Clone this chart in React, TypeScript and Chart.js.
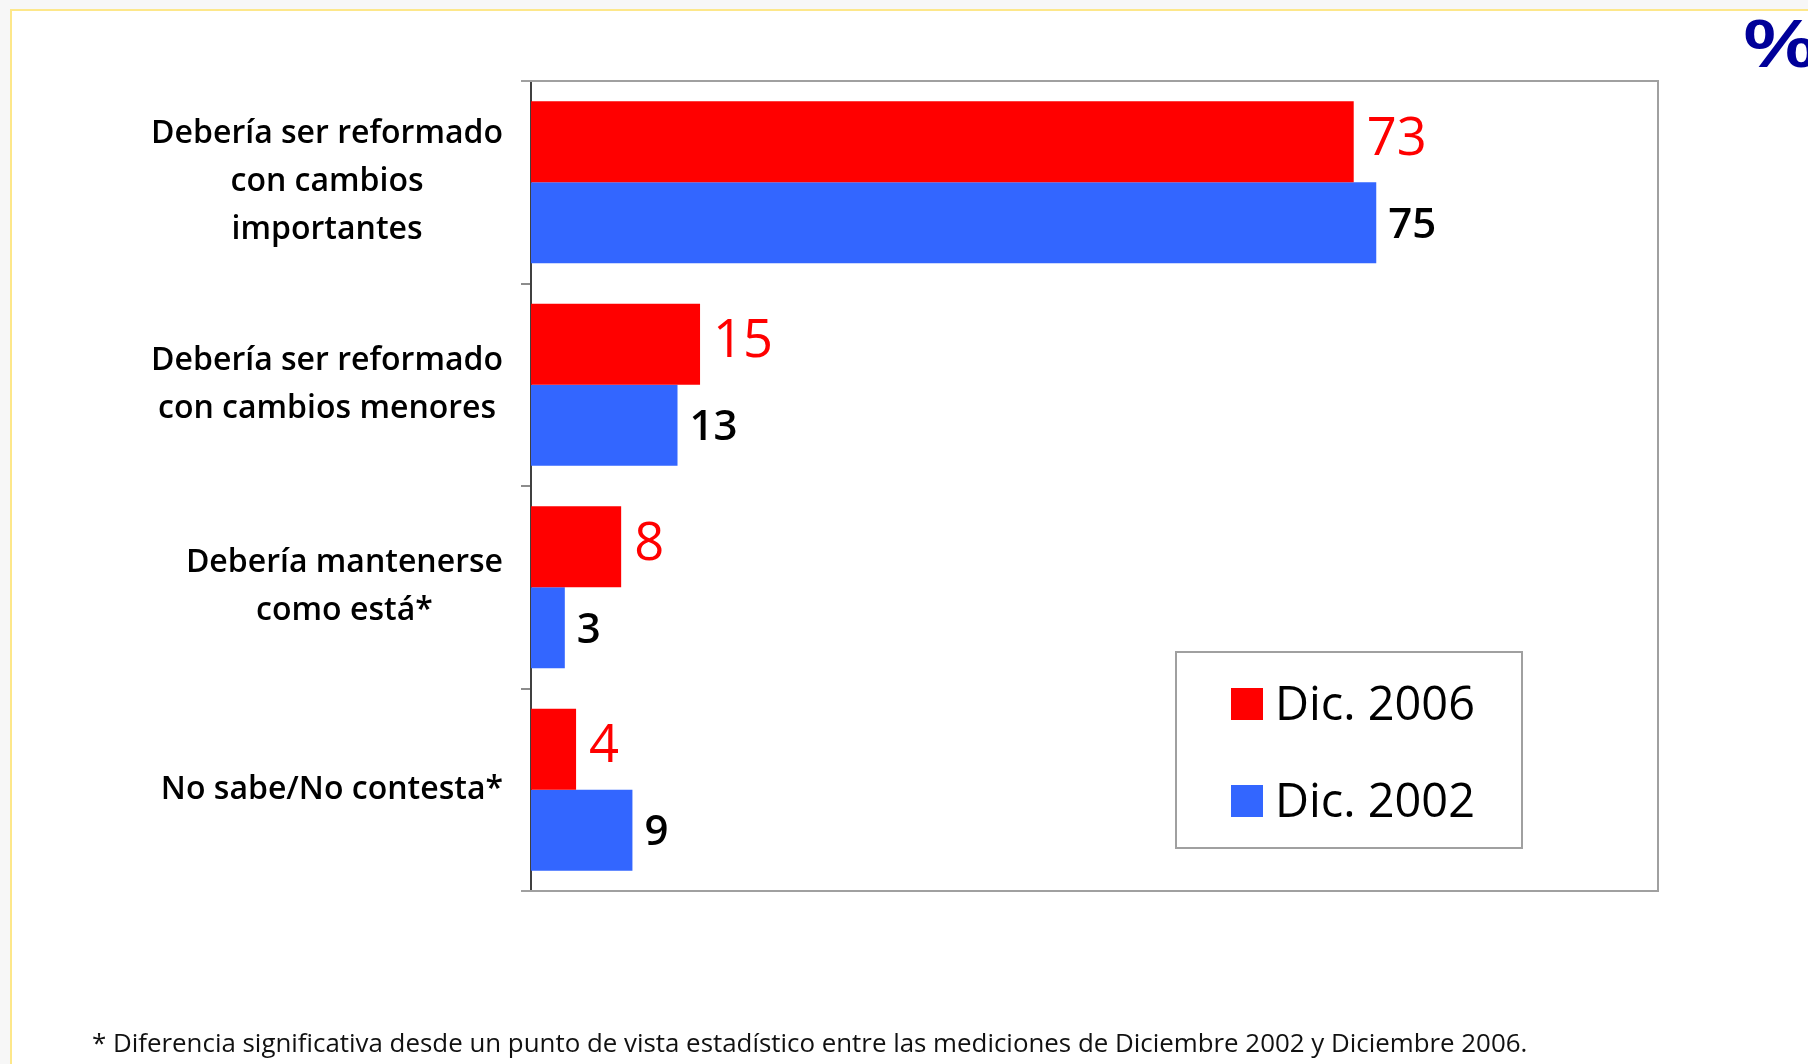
import React, { useEffect, useRef } from "react";
import { Chart, registerables } from "chart.js";

Chart.register(...registerables);

// ---- data ----
const categories: string[][] = [
  ["Debería ser reformado", "con cambios", "importantes"],
  ["Debería ser reformado", "con cambios menores"],
  ["Debería mantenerse", "como está*"],
  ["No sabe/No contesta*"],
];
const seriesNames = ["Dic. 2006", "Dic. 2002"];
const values2006 = [73, 15, 8, 4];
const values2002 = [75, 13, 3, 9];
const seriesColors = ["#ff0000", "#3366ff"];
const valueLabelColors = ["#ff0000", "#000000"];
const xMin = 0;
const xMax = 100;
const footnote =
  "* Diferencia significativa desde un punto de vista estadístico entre las mediciones de Diciembre 2002 y Diciembre 2006.";
const unitMark = "%";

const FONT = "'Open Sans', 'DejaVu Sans', sans-serif";

function fitSize(text: string, weight: string, target: number): number {
  const c = document.createElement("canvas").getContext("2d")!;
  c.font = `${weight} 100px ${FONT}`;
  return (100 * target) / c.measureText(text).width;
}

const framePlugin = {
  id: "frame",
  beforeDatasetsDraw(chart: any) {
    const { ctx, chartArea: a } = chart;
    ctx.save();
    ctx.strokeStyle = "#a0a0a0";
    ctx.lineWidth = 2;
    ctx.beginPath();
    ctx.moveTo(a.left - 10, a.top);
    ctx.lineTo(a.right, a.top);
    ctx.lineTo(a.right, a.bottom);
    ctx.lineTo(a.left - 10, a.bottom);
    ctx.stroke();
    ctx.restore();
  },
};

const categoryLabelPlugin = {
  id: "catLabels",
  afterDraw(chart: any) {
    const ctx = chart.ctx;
    const yScale = chart.scales.y;
    const weight = "600";
    const size = fitSize("Debería ser reformado", weight, 352);
    ctx.save();
    ctx.font = `${weight} ${size}px ${FONT}`;
    ctx.fillStyle = "#000000";
    ctx.textAlign = "center";
    ctx.textBaseline = "middle";
    const rightEdge = chart.chartArea.left - 28;
    const lineH = 48;
    categories.forEach((lines, i) => {
      const cy = yScale.getPixelForValue(i);
      const maxW = Math.max(...lines.map((l) => ctx.measureText(l).width));
      const cx = rightEdge - maxW / 2;
      lines.forEach((l, j) => {
        ctx.fillText(l, cx, cy + (j - (lines.length - 1) / 2) * lineH);
      });
    });
    ctx.restore();
  },
};

const valueLabelPlugin = {
  id: "valueLabels",
  afterDatasetsDraw(chart: any) {
    const ctx = chart.ctx;
    const weights = ["normal", "600"];
    const sizes = [fitSize("73", weights[0], 60), fitSize("75", weights[1], 48)];
    const offsets = [13, 12];
    const dys = [13, 15];
    ctx.save();
    ctx.textAlign = "left";
    ctx.textBaseline = "alphabetic";
    chart.data.datasets.forEach((ds: any, di: number) => {
      const meta = chart.getDatasetMeta(di);
      ctx.font = `${weights[di]} ${sizes[di]}px ${FONT}`;
      ctx.fillStyle = valueLabelColors[di];
      meta.data.forEach((bar: any, i: number) => {
        ctx.fillText(String(ds.data[i]), bar.x + offsets[di], bar.y + dys[di]);
      });
    });
    ctx.restore();
  },
};

const legendPlugin = {
  id: "boxLegend",
  afterDraw(chart: any) {
    const ctx = chart.ctx;
    const box = { x: 1176, y: 652, w: 346, h: 196 };
    ctx.save();
    ctx.fillStyle = "#ffffff";
    ctx.fillRect(box.x, box.y, box.w, box.h);
    ctx.strokeStyle = "#a0a0a0";
    ctx.lineWidth = 2;
    ctx.strokeRect(box.x, box.y, box.w, box.h);
    const size = fitSize("Dic. 2006", "normal", 200);
    ctx.font = `normal ${size}px ${FONT}`;
    ctx.textAlign = "left";
    ctx.textBaseline = "alphabetic";
    const baselines = [720, 817];
    chart.data.datasets.forEach((ds: any, i: number) => {
      ctx.fillStyle = ds.backgroundColor;
      ctx.fillRect(1231, baselines[i] - 32, 32, 32);
      ctx.fillStyle = "#000000";
      ctx.fillText(ds.label, 1275, baselines[i]);
    });
    ctx.restore();
  },
};

function BarChart() {
  const ref = useRef<HTMLCanvasElement | null>(null);
  useEffect(() => {
    if (!ref.current) return;
    const chart = new Chart(ref.current, {
      type: "bar",
      data: {
        labels: categories.map((c) => c.join(" ")),
        datasets: [
          {
            label: seriesNames[0],
            data: values2006,
            backgroundColor: seriesColors[0],
            categoryPercentage: 0.8,
            barPercentage: 1.0,
          },
          {
            label: seriesNames[1],
            data: values2002,
            backgroundColor: seriesColors[1],
            categoryPercentage: 0.8,
            barPercentage: 1.0,
          },
        ],
      },
      options: {
        responsive: false,
        animation: false,
        indexAxis: "y",
        layout: { padding: { left: 331, top: 81, right: 150, bottom: 173 } },
        plugins: { legend: { display: false }, tooltip: { enabled: false } },
        scales: {
          x: { display: false, min: xMin, max: xMax },
          y: {
            display: true,
            offset: true,
            ticks: { display: false },
            grid: {
              display: true,
              drawOnChartArea: false,
              drawTicks: true,
              tickLength: 10,
              color: "#8c8c8c",
              lineWidth: 2,
              offset: true,
            },
            border: { display: true, color: "#404040", width: 2 },
            afterFit: (s: any) => {
              s.width = 200;
            },
          },
        },
      } as any,
      plugins: [framePlugin, categoryLabelPlugin, valueLabelPlugin, legendPlugin],
    });
    return () => chart.destroy();
  }, []);
  return (
    <canvas
      ref={ref}
      width={1808}
      height={1064}
      style={{ position: "absolute", left: 0, top: 0, width: 1808, height: 1064 }}
    />
  );
}

export default function App() {
  const footSize = fitSize(footnote, "normal", 1436);
  return (
    <div
      style={{
        position: "fixed",
        left: 0,
        top: 0,
        width: 1808,
        height: 1064,
        overflow: "hidden",
        background: "#f7f7f7",
        fontFamily: FONT,
      }}
    >
      <div
        style={{
          position: "absolute",
          left: 10,
          top: 9,
          width: 1850,
          height: 1100,
          border: "2px solid #fde78a",
          background: "#ffffff",
        }}
      />
      <BarChart />
      <div
        style={{
          position: "absolute",
          left: 1742,
          top: 8,
          fontSize: 66,
          lineHeight: "66px",
          fontWeight: 600,
          color: "#000099",
          whiteSpace: "nowrap",
          transform: "scaleX(1.35)",
          transformOrigin: "left top",
        }}
      >
        {unitMark}
      </div>
      <div
        style={{
          position: "absolute",
          left: 92,
          top: 1044 - 0.53 * footSize,
          fontSize: footSize,
          lineHeight: `${footSize}px`,
          color: "#111111",
          whiteSpace: "nowrap",
        }}
      >
        {footnote}
      </div>
    </div>
  );
}
